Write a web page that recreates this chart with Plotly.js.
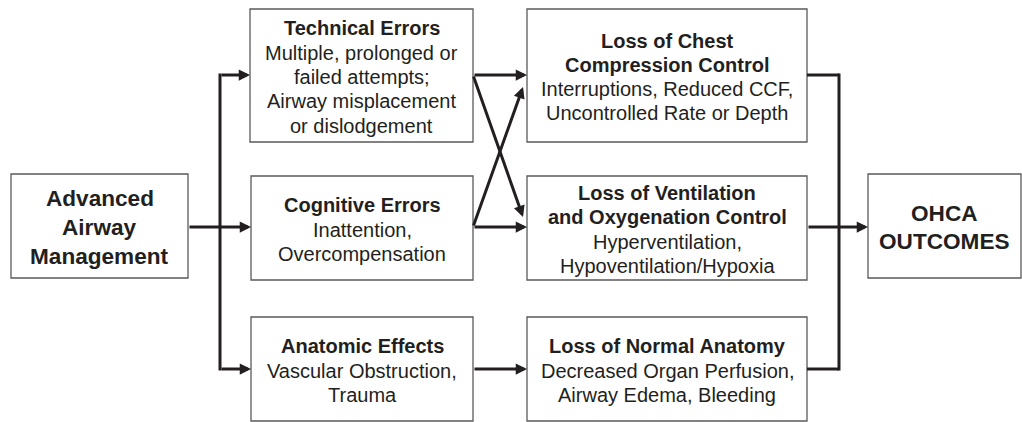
<!DOCTYPE html>
<html>
<head>
<meta charset="utf-8">
<script src="https://cdn.plot.ly/plotly-3.0.1.min.js"></script>
<style>html,body{margin:0;padding:0;background:#fff;}#chart{width:1022px;height:422px;}</style>
</head>
<body>
<div id="chart"></div>
<script>
// ---- data: nodes and their texts ----
const nodeIds = ["adv", "tech", "cog", "anat", "chest", "vent", "norm", "ohca"];
const nodeTitles = [
  ["Advanced", "Airway", "Management"],
  ["Technical Errors"],
  ["Cognitive Errors"],
  ["Anatomic Effects"],
  ["Loss of Chest", "Compression Control"],
  ["Loss of Ventilation", "and Oxygenation Control"],
  ["Loss of Normal Anatomy"],
  ["OHCA", "OUTCOMES"]
];
const nodeDetails = [
  [],
  ["Multiple, prolonged or", "failed attempts;", "Airway misplacement", "or dislodgement"],
  ["Inattention,", "Overcompensation"],
  ["Vascular Obstruction,", "Trauma"],
  ["Interruptions, Reduced CCF,", "Uncontrolled Rate or Depth"],
  ["Hyperventilation,", "Hypoventilation/Hypoxia"],
  ["Decreased Organ Perfusion,", "Airway Edema, Bleeding"],
  []
];
// edges: [from, to]
const edgesFrom = ["adv", "adv", "adv", "tech", "tech", "cog", "cog", "anat", "chest", "vent", "norm"];
const edgesTo   = ["tech", "cog", "anat", "chest", "vent", "chest", "vent", "norm", "ohca", "ohca", "ohca"];

// ---- layout geometry (pixel space) ----
const geom = {
  adv:   {x0: 11,  x1: 188, y0: 174, y1: 278, big: true},
  tech:  {x0: 250, x1: 473, y0: 9,   y1: 142},
  cog:   {x0: 251, x1: 473, y0: 176, y1: 280},
  anat:  {x0: 251, x1: 473, y0: 317, y1: 421},
  chest: {x0: 527, x1: 807, y0: 9,   y1: 142},
  vent:  {x0: 527, x1: 807, y0: 176, y1: 280},
  norm:  {x0: 527, x1: 807, y0: 317, y1: 421},
  ohca:  {x0: 868, x1: 1021, y0: 174, y1: 278, big: true}
};
const FONT = "Liberation Sans, Arial, Helvetica, sans-serif";
const TXT = "#231f20";
const LINE = "#231f20";
const BORDER = "#5a5a5a";
const LW = 3;
const leftBusX = 220, rightBusX = 839;

const shapes = [];
const annotations = [];

nodeIds.forEach((id, i) => {
  const g = geom[id];
  shapes.push({type: "rect", xref: "x", yref: "y", x0: g.x0, x1: g.x1, y0: g.y0, y1: g.y1,
    line: {color: BORDER, width: 1.3}, fillcolor: "rgba(0,0,0,0)", layer: "above"});
  const lines = nodeTitles[i].map(t => ({t, b: true})).concat(nodeDetails[i].map(t => ({t, b: false})));
  const size = g.big ? 22.6 : 20;
  const sp = g.big ? 28.7 : 24.3;
  const cx = (g.x0 + g.x1) / 2;
  const cy = (g.y0 + g.y1) / 2 + 1.5;
  const n = lines.length;
  lines.forEach((ln, k) => {
    const y = cy + (k - (n - 1) / 2) * sp;
    annotations.push({x: cx, y: y, xref: "x", yref: "y", showarrow: false,
      text: ln.b ? "<b>" + ln.t + "</b>" : ln.t,
      font: {family: FONT, size: size, color: TXT}, xanchor: "center", yanchor: "middle"});
  });
});

function rowY(id) {
  const g = geom[id];
  // connector height: top row at 75, middle at 227, bottom at 369
  if (g.y0 < 50) return 75;
  if (g.y0 > 300) return 369;
  return 227;
}
function arrow(x0, y0, x1, y1) {
  annotations.push({x: x1, y: y1, ax: x0, ay: y0, xref: "x", yref: "y", axref: "x", ayref: "y",
    text: "", showarrow: true, arrowhead: 2, arrowsize: 0.75, arrowwidth: LW, arrowcolor: LINE,
    standoff: 0, startstandoff: 0});
}
function seg(x0, y0, x1, y1) {
  shapes.push({type: "line", xref: "x", yref: "y", x0, y0, x1, y1, line: {color: LINE, width: LW}});
}

const leftTargets = [];
edgesFrom.forEach((f, i) => {
  const t = edgesTo[i];
  const gf = geom[f], gt = geom[t];
  if (f === "adv") {
    const y = rowY(t);
    if (y === rowY(f)) arrow(gf.x1, y, gt.x0, y);
    else arrow(leftBusX, y, gt.x0, y);
    leftTargets.push(y);
  } else if (t === "ohca") {
    const y = rowY(f);
    if (y === rowY(t)) arrow(gf.x1, y, gt.x0, y);
    else seg(gf.x1, y, rightBusX, y);
  } else {
    const yf = rowY(f), yt = rowY(t);
    if (yf === yt) arrow(gf.x1, yf, gt.x0, yt);
    else {
      const tipY = yt > yf ? yt - 10 : yt + 12;
      arrow(gf.x1, yf, gt.x0 - 4, tipY);
    }
  }
});
seg(leftBusX, Math.min(...leftTargets) - 1.5, leftBusX, Math.max(...leftTargets) + 1.5);
seg(rightBusX, 75 - 1.5, rightBusX, 369 + 1.5);

const layout = {
  width: 1022, height: 422,
  margin: {l: 0, r: 0, t: 0, b: 0, pad: 0},
  paper_bgcolor: "#ffffff", plot_bgcolor: "#ffffff",
  xaxis: {range: [0, 1022], visible: false, fixedrange: true},
  yaxis: {range: [422, 0], visible: false, fixedrange: true},
  showlegend: false,
  shapes, annotations
};
Plotly.newPlot("chart", [], layout, {displayModeBar: false, staticPlot: true});
</script>
</body>
</html>
